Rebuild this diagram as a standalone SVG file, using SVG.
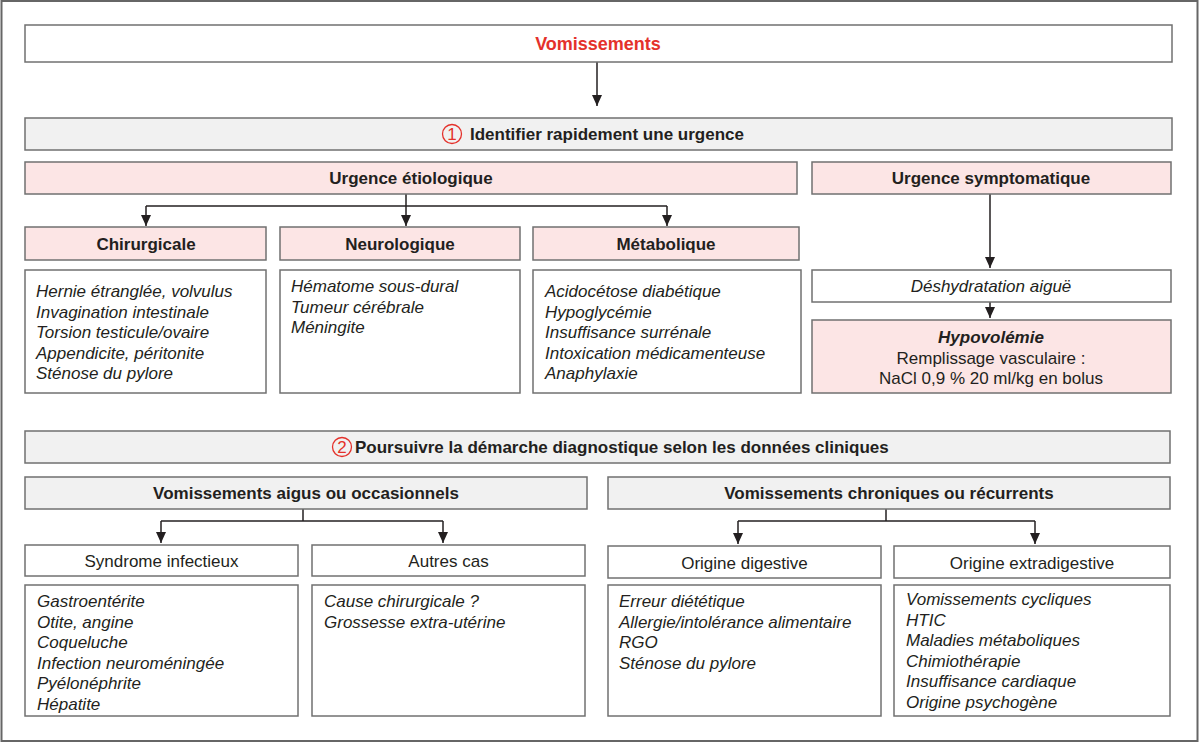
<svg xmlns="http://www.w3.org/2000/svg" width="1200" height="743" viewBox="0 0 1200 743">
<style>
  .box{fill:#ffffff;stroke:#707070;stroke-width:1.5}
  .pink{fill:#fce5e5;stroke:#707070;stroke-width:1.5}
  .gray{fill:#f1f1f1;stroke:#707070;stroke-width:1.5}
  text{font-family:"Liberation Sans",Arial,sans-serif;font-size:17px;fill:#231f20}
  .b{font-weight:bold}
  .c{text-anchor:middle}
  .i{font-style:italic}
  .red{fill:#e4312b}
  .n{font-size:17px}
  .conn{fill:none;stroke:#231f20;stroke-width:1.5}
  .num{fill:none;stroke:#e4312b;stroke-width:1.3}
</style>
<defs>
  <marker id="arr" markerUnits="userSpaceOnUse" markerWidth="12" markerHeight="10" viewBox="0 0 12 10" refX="11" refY="5" orient="auto">
    <path d="M0,0 L11,5 L0,10 Z" fill="#231f20"/>
  </marker>
</defs>
<rect x="1.5" y="1" width="1196" height="740" fill="#ffffff" stroke="#666666" stroke-width="2"/>

<g id="connectors">
  <line class="conn" x1="597" y1="62" x2="597" y2="106" marker-end="url(#arr)"/>
  <polyline class="conn" points="406,194 406,206"/>
  <polyline class="conn" points="146,206 667,206"/>
  <line class="conn" x1="146" y1="206" x2="146" y2="226" marker-end="url(#arr)"/>
  <line class="conn" x1="406" y1="206" x2="406" y2="226" marker-end="url(#arr)"/>
  <line class="conn" x1="667" y1="206" x2="667" y2="226" marker-end="url(#arr)"/>
  <line class="conn" x1="990" y1="194" x2="990" y2="268" marker-end="url(#arr)"/>
  <line class="conn" x1="990" y1="302" x2="990" y2="318" marker-end="url(#arr)"/>
  <polyline class="conn" points="303,509 303,521"/>
  <polyline class="conn" points="161,521 443,521"/>
  <line class="conn" x1="161" y1="521" x2="161" y2="543" marker-end="url(#arr)"/>
  <line class="conn" x1="443" y1="521" x2="443" y2="543" marker-end="url(#arr)"/>
  <polyline class="conn" points="886,509 886,521"/>
  <polyline class="conn" points="738,521 1035,521"/>
  <line class="conn" x1="738" y1="521" x2="738" y2="544" marker-end="url(#arr)"/>
  <line class="conn" x1="1035" y1="521" x2="1035" y2="544" marker-end="url(#arr)"/>
</g>

<g id="vomissements">
  <rect class="box" x="25" y="25" width="1147" height="37"/>
  <text class="b c red" x="598" y="50" style="font-size:18px">Vomissements</text>
</g>

<g id="etape1">
  <rect class="gray" x="25" y="118" width="1147" height="32"/>
  <circle class="num" cx="452" cy="134" r="9.5"/>
  <text class="c red n" x="452" y="140">1</text>
  <text class="b" x="470" y="140">Identifier rapidement une urgence</text>
</g>

<g id="urgence-etiologique">
  <rect class="pink" x="25" y="162" width="772" height="32"/>
  <text class="b c" x="411" y="184">Urgence étiologique</text>
</g>

<g id="urgence-symptomatique">
  <rect class="pink" x="812" y="162" width="359" height="32"/>
  <text class="b c" x="991" y="184">Urgence symptomatique</text>
</g>

<g id="chirurgicale">
  <rect class="pink" x="25" y="227" width="241" height="33"/>
  <text class="b c" x="146" y="250">Chirurgicale</text>
</g>
<g id="neurologique">
  <rect class="pink" x="280" y="227" width="240" height="33"/>
  <text class="b c" x="400" y="250">Neurologique</text>
</g>
<g id="metabolique">
  <rect class="pink" x="533" y="227" width="266" height="33"/>
  <text class="b c" x="666" y="250">Métabolique</text>
</g>

<g id="liste-chirurgicale">
  <rect class="box" x="25" y="270" width="241" height="123"/>
  <text class="i" x="36" y="297">Hernie étranglée, volvulus</text>
  <text class="i" x="36" y="317.5">Invagination intestinale</text>
  <text class="i" x="36" y="338">Torsion testicule/ovaire</text>
  <text class="i" x="36" y="358.5">Appendicite, péritonite</text>
  <text class="i" x="36" y="379">Sténose du pylore</text>
</g>
<g id="liste-neurologique">
  <rect class="box" x="280" y="270" width="240" height="123"/>
  <text class="i" x="291" y="292">Hématome sous-dural</text>
  <text class="i" x="291" y="312.5">Tumeur cérébrale</text>
  <text class="i" x="291" y="333">Méningite</text>
</g>
<g id="liste-metabolique">
  <rect class="box" x="533" y="270" width="268" height="123"/>
  <text class="i" x="545" y="297">Acidocétose diabétique</text>
  <text class="i" x="545" y="317.5">Hypoglycémie</text>
  <text class="i" x="545" y="338">Insuffisance surrénale</text>
  <text class="i" x="545" y="358.5">Intoxication médicamenteuse</text>
  <text class="i" x="545" y="379">Anaphylaxie</text>
</g>

<g id="deshydratation">
  <rect class="box" x="812" y="270" width="359" height="32"/>
  <text class="i c" x="991" y="292">Déshydratation aiguë</text>
</g>
<g id="hypovolemie">
  <rect class="pink" x="812" y="320" width="359" height="73"/>
  <text class="b i c" x="991" y="343">Hypovolémie</text>
  <text class="c" x="991" y="363.5">Remplissage vasculaire :</text>
  <text class="c" x="991" y="384">NaCl 0,9 % 20 ml/kg en bolus</text>
</g>

<g id="etape2">
  <rect class="gray" x="25" y="431" width="1145" height="32"/>
  <circle class="num" cx="342" cy="447" r="9.5"/>
  <text class="c red n" x="342" y="453">2</text>
  <text class="b" x="355" y="453">Poursuivre la démarche diagnostique selon les données cliniques</text>
</g>

<g id="aigus">
  <rect class="gray" x="25" y="477" width="562" height="32"/>
  <text class="b c" x="306" y="499">Vomissements aigus ou occasionnels</text>
</g>
<g id="chroniques">
  <rect class="gray" x="608" y="477" width="562" height="32"/>
  <text class="b c" x="889" y="499">Vomissements chroniques ou récurrents</text>
</g>

<g id="syndrome-infectieux">
  <rect class="box" x="25" y="545" width="273" height="31"/>
  <text class="c" x="161.5" y="567">Syndrome infectieux</text>
</g>
<g id="autres-cas">
  <rect class="box" x="312" y="545" width="273" height="31"/>
  <text class="c" x="448.5" y="567">Autres cas</text>
</g>
<g id="origine-digestive">
  <rect class="box" x="608" y="546" width="273" height="32"/>
  <text class="c" x="744.5" y="568.5">Origine digestive</text>
</g>
<g id="origine-extradigestive">
  <rect class="box" x="894" y="546" width="276" height="32"/>
  <text class="c" x="1032" y="568.5">Origine extradigestive</text>
</g>

<g id="liste-infectieux">
  <rect class="box" x="25" y="585" width="273" height="131"/>
  <text class="i" x="37" y="607">Gastroentérite</text>
  <text class="i" x="37" y="627.5">Otite, angine</text>
  <text class="i" x="37" y="648">Coqueluche</text>
  <text class="i" x="37" y="668.5">Infection neuroméningée</text>
  <text class="i" x="37" y="689">Pyélonéphrite</text>
  <text class="i" x="37" y="709.5">Hépatite</text>
</g>
<g id="liste-autres">
  <rect class="box" x="312" y="585" width="273" height="131"/>
  <text class="i" x="324" y="607">Cause chirurgicale ?</text>
  <text class="i" x="324" y="627.5">Grossesse extra-utérine</text>
</g>
<g id="liste-digestive">
  <rect class="box" x="608" y="585" width="273" height="131"/>
  <text class="i" x="619" y="607">Erreur diététique</text>
  <text class="i" x="619" y="627.5">Allergie/intolérance alimentaire</text>
  <text class="i" x="619" y="648">RGO</text>
  <text class="i" x="619" y="668.5">Sténose du pylore</text>
</g>
<g id="liste-extradigestive">
  <rect class="box" x="894" y="585" width="276" height="131"/>
  <text class="i" x="906" y="605">Vomissements cycliques</text>
  <text class="i" x="906" y="625.5">HTIC</text>
  <text class="i" x="906" y="646">Maladies métaboliques</text>
  <text class="i" x="906" y="666.5">Chimiothérapie</text>
  <text class="i" x="906" y="687">Insuffisance cardiaque</text>
  <text class="i" x="906" y="707.5">Origine psychogène</text>
</g>
</svg>
